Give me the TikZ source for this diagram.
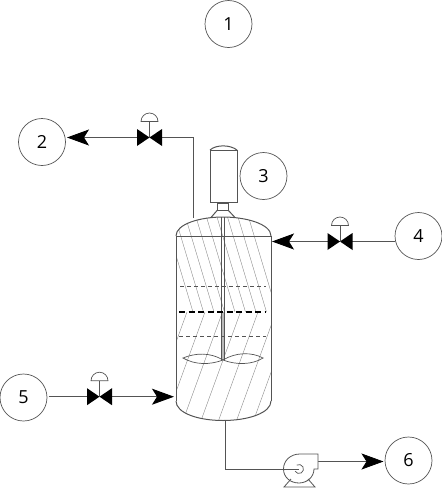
\documentclass[tikz,border=0pt]{standalone}
\usepackage{fontspec}
\setmainfont{Open Sans}
\usetikzlibrary{arrows.meta}
\definecolor{ln}{gray}{0.33}
\definecolor{hatch}{gray}{0.55}
\tikzset{
  x=1pt,y=-1pt,
  tag/.style={circle,draw=ln,line width=0.7pt,minimum size=47pt,inner sep=0pt,outer sep=1.5pt,text=black,font=\fontsize{18}{20}\selectfont},
  flow/.style={-{Stealth[length=22pt,width=16pt,inset=5pt,black]}},
  hatchline/.style={line width=0.4pt,color=hatch},
  valvebody/.style={fill=black,draw=none},
}
\newcommand{\valveat}[2]{%
  \fill[valvebody] (#1-12.5,#2-8.5) -- (#1-12.5,#2+8.5) -- (#1+12.5,#2-8.5) -- (#1+12.5,#2+8.5) -- cycle;
  \draw[line width=0.7pt] (#1,#2) -- (#1,#2-16);
  \draw[line width=0.7pt] (#1-8.5,#2-16) arc[start angle=180,end angle=360,radius=8.5] -- cycle;
}
\begin{document}
\begin{tikzpicture}[line width=1pt,draw=ln]
\useasboundingbox (0,0) rectangle (442,488);
% tags
\node[tag] (t1) at (228.5,24) {1};
\node[tag] (t2) at (42,142) {2};
\node[tag] (t3) at (263.5,176) {3};
\node[tag] (t4) at (418.5,236) {4};
\node[tag] (t5) at (23.5,397.5) {5};
\node[tag] (t6) at (408.5,460.5) {6};
% hatching
\begin{scope}
\clip (176,236) .. controls (176,224) and (200,217) .. (223,217) .. controls (246,217) and (271,224) .. (271,236) -- (271,401) .. controls (271,413) and (248,420.5) .. (223,420.5) .. controls (198,420.5) and (176,413) .. (176,401) -- cycle;
\foreach \xa in {163,173.5,184,194.5,205,215.5,226,236.5,247}
  \draw[hatchline] (\xa,212) -- (\xa+30,312);
\foreach \xa in {187,205,222.5,240.5,258,276,293}
  \draw[hatchline] (\xa,312) -- (\xa-40,422);
\end{scope}
% vessel
\coordinate (headL) at (176,236);
\coordinate (headR) at (271,236);
\coordinate (botL) at (176,401);
\coordinate (botR) at (271,401);
\coordinate (apex) at (223,217);
\coordinate (bot) at (223,420.5);
\draw (headL) .. controls (176,224) and (200,217) .. (apex) .. controls (246,217) and (271,224) .. (headR);
\draw (headL) -- (headR);
\draw (headL) -- (botL);
\draw (headR) -- (botR);
\draw (botL) .. controls (176,413) and (198,420.5) .. (bot) .. controls (248,420.5) and (271,413) .. (botR);
% motor
\draw (210,150) rectangle (237,202);
\draw (210,150) .. controls (216,144.5) and (230,144.5) .. (237,150);
\draw (217.5,203) rectangle (228,210);
\draw (217.5,210) -- (211,217.5);
\draw (228,210) -- (235,217.5);
% shaft
\fill[gray!55] (221,312) rectangle (224,360);
\draw (221,217) -- (221,360);
\draw (224,217) -- (224,360);
% levels
\draw[dash pattern=on 4pt off 3pt,line width=0.7pt] (180,286) -- (266,286);
\draw[black,dash pattern=on 6pt off 3.5pt,line width=1.2pt] (179,312) -- (265,312);
\draw[dash pattern=on 4pt off 3pt,line width=0.7pt] (179,336) -- (266,336);
% blades
\draw[line width=0.7pt] (223,360) .. controls (210,352) and (195,353) .. (183,358) .. controls (195,365) and (210,365) .. (223,360);
\draw[line width=0.7pt] (223,360) .. controls (236,352) and (252,352) .. (263,358) .. controls (252,365) and (236,365) .. (223,360);
% stream 2
\coordinate (nozzle2) at (193,218);
\coordinate (elbow2) at (193,137.5);
\coordinate (v2) at (149.5,137.5);
\draw (nozzle2) -- (elbow2) -- (v2);
\draw[flow] (v2) -- (t2.east |- v2);
\valveat{149.5}{137.5}
% stream 4
\coordinate (v4) at (340,241.5);
\coordinate (wall4) at (272,241.5);
\coordinate (t4in) at (395,241.5);
\draw (t4in) -- (v4);
\draw[flow] (v4) -- (wall4);
\valveat{340}{241.5}
% stream 5
\coordinate (v5) at (99.5,396.7);
\coordinate (wall5) at (174,396.7);
\draw (t5.east |- v5) -- (v5);
\draw[flow] (v5) -- (wall5);
\valveat{99.5}{396.7}
% stream 6
\coordinate (out6) at (225.7,421);
\coordinate (elbow6) at (225.7,469);
\coordinate (pumpc) at (299,469);
\coordinate (pumpout) at (318,461.5);
\draw[flow,line width=0.7pt] (pumpout) -- (t6.west |- pumpout);
% pump
\draw[line width=0.8pt,fill=white] (318,454) -- (300,454) .. controls (290,454) and (283.5,461) .. (283.5,469) .. controls (283.5,477) and (290,483) .. (299,483) .. controls (307,483) and (314,477) .. (314,469) -- (318,469) -- cycle;
\draw[line width=0.7pt] (296.75,465.1) arc[start angle=-120,end angle=150,radius=4.5];
\draw (out6) -- (elbow6) -- (pumpc);
\draw[line width=0.8pt] (291,479) -- (284,487) -- (315,487) -- (308,479);
\end{tikzpicture}
\end{document}
